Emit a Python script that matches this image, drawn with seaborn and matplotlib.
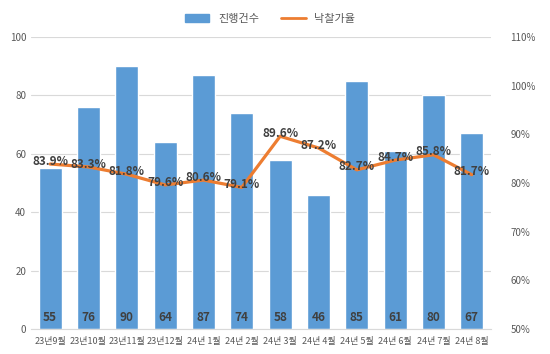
import numpy as np
import pandas as pd
import seaborn as sns
import matplotlib.pyplot as plt

months = ["23년9월", "23년10월", "23년11월", "23년12월", "24년 1월", "24년 2월",
          "24년 3월", "24년 4월", "24년 5월", "24년 6월", "24년 7월", "24년 8월"]
cases = [55, 76, 90, 64, 87, 74, 58, 46, 85, 61, 80, 67]
rates = [83.9, 83.3, 81.8, 79.6, 80.6, 79.1, 89.6, 87.2, 82.7, 84.7, 85.8, 81.7]

df = pd.DataFrame({"month": months, "cases": cases, "rate": rates})

sns.set_style("white")
plt.rcParams["font.family"] = ["Noto Sans CJK KR", "DejaVu Sans"]

bar_color = "#5B9BD5"
line_color = "#ED7D31"
tick_color = "#595959"

fig = plt.figure(figsize=(5.5, 3.54), dpi=100)
ax = fig.add_axes([31 / 550, 25 / 354, 460 / 550, 292 / 354])

sns.barplot(data=df, x="month", y="cases", color=bar_color, width=0.6,
            saturation=1, ax=ax, zorder=2)
ax.set_ylim(0, 100)
ax.set_yticks(range(0, 101, 20))
ax.yaxis.grid(True, color="#D9D9D9", linewidth=0.8, zorder=0)
ax.set_axisbelow(True)
ax.set_xlabel("")
ax.set_ylabel("")
for s in ax.spines.values():
    s.set_visible(False)
ax.spines["bottom"].set_visible(True)
ax.spines["bottom"].set_color("#D9D9D9")
ax.tick_params(axis="both", length=0, colors=tick_color, labelsize=7)
ax.tick_params(axis="x", labelsize=6.5, pad=6)

for i, v in enumerate(cases):
    ax.text(i, 4, str(v), ha="center", va="center", fontsize=8.5,
            fontweight="bold", color="#404040", zorder=5)

ax2 = ax.twinx()
sns.pointplot(data=df, x="month", y="rate", color=line_color, markers="",
              linewidth=2.3, ax=ax2)
ax2.set_ylim(50, 110)
ax2.set_yticks(range(50, 111, 10))
ax2.set_yticklabels([f"{t}%" for t in range(50, 111, 10)])
ax2.set_xlabel("")
ax2.set_ylabel("")
for s in ax2.spines.values():
    s.set_visible(False)
ax2.tick_params(axis="both", length=0, colors=tick_color, labelsize=7)
ax2.tick_params(axis="y", pad=14)

for i, r in enumerate(rates):
    ax2.text(i, r + 0.6, f"{r}%", ha="center", va="center", fontsize=8.5,
             fontweight="bold", color="#404040", zorder=6)

handles = [plt.Rectangle((0, 0), 1, 1, color=bar_color),
           plt.Line2D([0], [0], color=line_color, linewidth=2)]
fig.legend(handles, ["진행건수", "낙찰가율"], loc="center", ncol=2,
           bbox_to_anchor=(270 / 550, 1 - 19 / 354), frameon=False,
           fontsize=8, labelcolor=tick_color, handlelength=2.2,
           columnspacing=2)

fig.savefig("out.png", dpi=100)
